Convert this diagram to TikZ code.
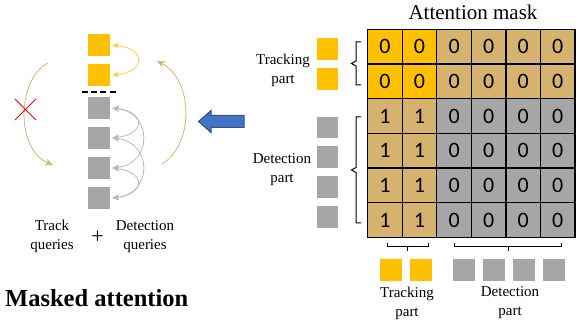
\documentclass[tikz,border=0pt]{standalone}
\usepackage{fontspec}
\setmainfont{Liberation Serif}
\newfontfamily\digitfont{Carlito}
\usetikzlibrary{arrows.meta}
\definecolor{qyellow}{HTML}{FFC000}
\definecolor{qtan}{HTML}{D6B26F}
\definecolor{qgray}{HTML}{A6A6A6}
\definecolor{arcyellow}{HTML}{FFCF40}
\definecolor{arctan}{HTML}{D9B36E}
\definecolor{arcgray}{HTML}{B8B8B8}
\definecolor{bluefill}{HTML}{4472C4}
\definecolor{blueline}{HTML}{2F528F}
\tikzset{
  cell/.style={draw=black, line width=1.3pt, minimum width=34.55pt, minimum height=34.7pt, inner sep=0pt, font=\digitfont\fontsize{22}{22}\selectfont},
  qsq/.style={minimum width=22pt, minimum height=22pt, inner sep=0pt},
  msq/.style={minimum width=20.5pt, minimum height=21.5pt, inner sep=0pt},
  bsq/.style={minimum width=21.7pt, minimum height=21.7pt, inner sep=0pt},
  lbl/.style={align=center, font=\fontsize{15}{19}\selectfont, inner sep=0pt},
  brk/.style={draw=black, line width=1pt},
  garc/.style={draw=arcgray, line width=0.8pt, {Stealth[length=7pt,width=6pt]}-{Stealth[length=7pt,width=6pt]}},
}
\begin{document}
\begin{tikzpicture}[x=1pt,y=-1pt]
\useasboundingbox (0,0) rectangle (581,323);
% ---- attention mask grid
\node[font=\fontsize{21}{21}\selectfont, inner sep=0pt] (title) at (473,12) {Attention mask};
\foreach \r in {1,...,6}{
  \foreach \c in {1,...,6}{
    \pgfmathsetmacro{\xx}{367.7+(\c-0.5)*34.55}
    \pgfmathsetmacro{\yy}{29.3+(\r-0.5)*34.7}
    \ifnum\r<3
      \ifnum\c<3 \def\fc{qyellow}\def\dg{0}\else\def\fc{qtan}\def\dg{0}\fi
    \else
      \ifnum\c<3 \def\fc{qtan}\def\dg{1}\else\def\fc{qgray}\def\dg{0}\fi
    \fi
    \node[cell, fill=\fc] (c-\r-\c) at (\xx,\yy) {\dg};
  }
}
% ---- side squares of the mask
\node[msq, fill=qyellow] (my1) at (327.5,49) {};
\node[msq, fill=qyellow] (my2) at (327.5,79) {};
\node[msq, fill=qgray] (mg1) at (327.5,127.5) {};
\node[msq, fill=qgray] (mg2) at (327.5,157) {};
\node[msq, fill=qgray] (mg3) at (327.5,187) {};
\node[msq, fill=qgray] (mg4) at (327.5,217) {};
\node[lbl] (ltrack) at (283,70) {Tracking\\part};
\node[lbl] (ldet) at (282,170) {Detection\\part};
\draw[brk] (361,42) -- (356,42) -- (356,61) -- (351.5,63.5) -- (356,66) -- (356,85) -- (361,85);
\draw[brk] (361,117) -- (356,117) -- (356,167.5) -- (351.5,170) -- (356,172.5) -- (356,223) -- (361,223);
% ---- bottom squares
\node[bsq, fill=qyellow] (by1) at (391,270) {};
\node[bsq, fill=qyellow] (by2) at (421,270) {};
\node[bsq, fill=qgray] (bg1) at (464,270) {};
\node[bsq, fill=qgray] (bg2) at (494,270) {};
\node[bsq, fill=qgray] (bg3) at (524,270) {};
\node[bsq, fill=qgray] (bg4) at (554,270) {};
\node[lbl] (btrack) at (407,303) {Tracking\\part};
\node[lbl] (bdet) at (510,303) {Detection\\part};
\draw[brk] (387,243) -- (387,247) -- (428,247) -- (428,243);
\draw[brk] (407.5,247) -- (407.5,251);
\draw[brk] (454.5,243) -- (454.5,247) -- (561,247) -- (561,243);
\draw[brk] (508,247) -- (508,251);
% ---- blue arrow
\draw[fill=bluefill, draw=blueline, line width=1pt] (198.5,121.5) -- (211,110.5) -- (211,115.5) -- (244,115.5) -- (244,127.5) -- (211,127.5) -- (211,132.5) -- cycle;
% ---- left: queries
\node[qsq, fill=qyellow] (q1) at (99,45.3) {};
\node[qsq, fill=qyellow] (q2) at (99,75) {};
\node[qsq, fill=qgray] (q3) at (99,108) {};
\node[qsq, fill=qgray] (q4) at (99,138) {};
\node[qsq, fill=qgray] (q5) at (99,168) {};
\node[qsq, fill=qgray] (q6) at (99,198) {};
\coordinate (dl) at (82,91.7);
\coordinate (dr) at (117,91.7);
\draw[black, line width=2pt, dash pattern=on 6pt off 3.2pt] (dl) -- (dr);
% yellow arc
\draw[draw=arcyellow, line width=0.8pt, {Stealth[length=7pt,width=6pt]}-{Stealth[length=7pt,width=6pt]}]
  ([xshift=2pt]q1.east) .. controls (146,48) and (146,72) .. ([xshift=2pt]q2.east);
% gray arcs
\draw[garc] ([xshift=2pt]q3.east) .. controls (146,112) and (146,134) .. ([xshift=2pt]q4.east);
\draw[garc] ([xshift=2pt]q3.east) .. controls (153,112) and (153,164) .. ([xshift=2pt]q5.east);
\draw[garc] ([xshift=2pt]q4.east) .. controls (153,142) and (153,194) .. ([xshift=2pt]q6.east);
\draw[garc] ([xshift=2pt]q5.east) .. controls (146,172) and (146,194) .. ([xshift=2pt]q6.east);
% big tan arcs
\coordinate (la) at (48,63);
\coordinate (lb) at (53,165);
\draw[draw=arctan, line width=0.8pt, -{Stealth[length=8pt,width=7pt]}] (la) .. controls (16,80) and (16,150) .. (lb);
\coordinate (ra) at (162,164);
\coordinate (rb) at (157,61);
\draw[draw=arctan, line width=0.8pt, -{Stealth[length=8pt,width=7pt]}] (ra) .. controls (194,145) and (194,80) .. (rb);
% red cross
\coordinate (x1) at (15,99);
\coordinate (x2) at (36,120);
\coordinate (x3) at (15,120);
\coordinate (x4) at (36,99);
\draw[red, line width=1pt] (x1) -- (x2) (x3) -- (x4);
% labels
\node[lbl] (ltq) at (52,236.5) {Track\\queries};
\node[lbl] (ldq) at (145,236.5) {Detection\\queries};
\node[font=\fontsize{22}{22}\selectfont, inner sep=0pt] (plus) at (97.7,237) {+};
\node[font=\bfseries\fontsize{24.5}{24.5}\selectfont, inner sep=0pt, anchor=base west] (masked) at (5,306) {Masked attention};
\end{tikzpicture}
\end{document}
